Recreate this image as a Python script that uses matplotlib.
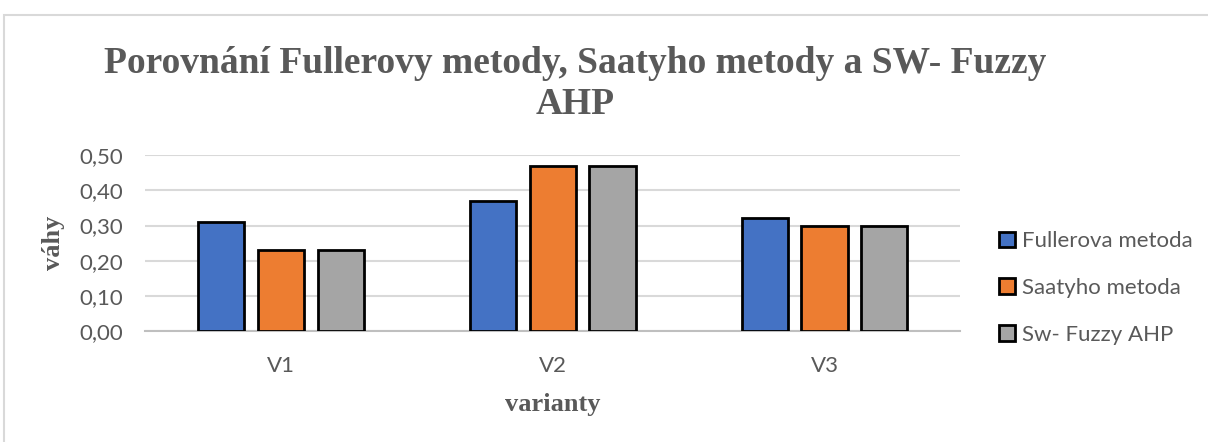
import numpy as np
import matplotlib
matplotlib.use("Agg")
import matplotlib.pyplot as plt
from matplotlib.patches import Rectangle

# data
categories = ["V1", "V2", "V3"]
series_names = ["Fullerova metoda", "Saatyho metoda", "Sw- Fuzzy AHP"]
fuller = [0.31, 0.37, 0.32]
saaty = [0.23, 0.47, 0.30]
fuzzy = [0.23, 0.47, 0.30]
colors = ["#4472C4", "#ED7D31", "#A5A5A5"]
yticks = [0.0, 0.1, 0.2, 0.3, 0.4, 0.5]

grey = "#595959"
serif = "Liberation Serif"
sans = "Lato"

fig = plt.figure(figsize=(12.08, 4.42), dpi=100)
fig.patches.append(Rectangle((4 / 1208, -0.1), 1.2, (442 - 15) / 442 + 0.1,
                             transform=fig.transFigure, fill=False,
                             edgecolor="#d9d9d9", linewidth=1.5))

ax = fig.add_axes([0.120, 0.251, 0.675, 0.398])
x = np.arange(len(categories))
w = 0.17
step = 0.22
for i, (vals, name) in enumerate(zip([fuller, saaty, fuzzy], series_names)):
    ax.bar(x + (i - 1) * step, vals, w, color=colors[i], edgecolor="black",
           linewidth=2, label=name, zorder=3)

ax.set_xlim(-0.5, 2.5)
ax.set_ylim(0, 0.5)
ax.set_yticks(yticks)
ax.set_yticklabels([f"{v:.2f}".replace(".", ",") for v in yticks],
                   fontsize=16, color=grey, family=sans)
ax.set_xticks(x)
ax.set_xticklabels(categories, fontsize=16, color=grey, family=sans)
ax.tick_params(length=0)
ax.tick_params(axis="y", pad=16)
ax.tick_params(axis="x", pad=18)
ax.yaxis.grid(True, color="#d9d9d9", linewidth=1.5, zorder=0)
for s in ["top", "right", "left"]:
    ax.spines[s].set_visible(False)
ax.spines["bottom"].set_color("#bfbfbf")
ax.spines["bottom"].set_linewidth(1.5)

ax.set_ylabel("váhy", fontsize=19, fontweight="bold", color=grey, family=serif,
              labelpad=10)
ax.set_xlabel("varianty", fontsize=19, fontweight="bold", color=grey, family=serif,
              labelpad=12)

fig.text(0.476, 0.81, "Porovnání Fullerovy metody, Saatyho metody a SW- Fuzzy\nAHP",
         ha="center", va="center", fontsize=27, fontweight="bold", color=grey,
         family=serif, linespacing=1.25)

leg = ax.legend(loc="center left", bbox_to_anchor=(1.048, 0.245), frameon=False,
                prop={"family": sans, "size": 16}, handlelength=0.7,
                handleheight=0.7, handletextpad=0.3, labelspacing=1.2,
                borderpad=0, borderaxespad=0)
for t in leg.get_texts():
    t.set_color(grey)

fig.savefig("out.png", dpi=100)
